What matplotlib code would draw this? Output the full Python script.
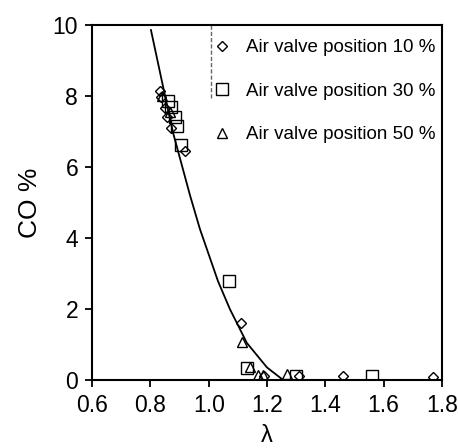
import numpy as np
import matplotlib.pyplot as plt

plt.rcParams['font.family'] = ['Liberation Sans', 'DejaVu Sans']

### Data
# fitted curve (lambda, CO %)
curve_lam = [0.802, 0.840, 0.878, 0.936, 0.970, 1.032, 1.073, 1.131, 1.200, 1.255]
curve_co  = [9.86, 8.40, 6.96, 5.20, 4.25, 2.78, 1.99, 1.04, 0.35, 0.0]

# air valve position 10 %
lam_10 = [0.833, 0.836, 0.850, 0.857, 0.870, 0.920, 1.111, 1.190, 1.310, 1.460, 1.770]
co_10  = [8.15, 7.98, 7.65, 7.42, 7.10, 6.45, 1.60, 0.12, 0.10, 0.12, 0.08]

# air valve position 30 %
lam_30 = [0.862, 0.872, 0.883, 0.890, 0.905, 1.070, 1.132, 1.300, 1.560]
co_30  = [7.85, 7.70, 7.40, 7.15, 6.62, 2.78, 0.33, 0.10, 0.10]

# air valve position 50 %
lam_50 = [0.840, 0.866, 1.114, 1.142, 1.169, 1.186, 1.269]
co_50  = [8.00, 7.55, 1.08, 0.37, 0.14, 0.14, 0.18]

### Plot
fig = plt.figure(figsize=(4.58, 4.48), dpi=100)
ax = fig.add_axes([0.201, 0.152, 0.764, 0.792])

ax.plot(curve_lam, curve_co, 'k-', linewidth=1.3)

mk = dict(linestyle='none', markerfacecolor='none', markeredgecolor='k', markeredgewidth=1.0)
ax.plot(lam_10, co_10, marker='D', markersize=5.5, label='Air valve position 10 %', **mk)
ax.plot(lam_30, co_30, marker='s', markersize=8, label='Air valve position 30 %', **mk)
ax.plot(lam_50, co_50, marker='^', markersize=7.5, label='Air valve position 50 %', **mk)

# legend box edge (only the left side shows in the scan)
ax.axvline(1.008, ymin=0.795, ymax=1.0, color='0.4', linewidth=1.0, linestyle=(0, (3, 1.5)))

leg = ax.legend(loc='upper right', bbox_to_anchor=(1.02, 0.997), frameon=False, fontsize=13.5,
                handlelength=0.6, handletextpad=1.0, labelspacing=1.4, borderaxespad=0.3)

ax.set_xlim(0.6, 1.8)
ax.set_ylim(0, 10)
ax.set_xticks([0.6, 0.8, 1.0, 1.2, 1.4, 1.6, 1.8])
ax.set_yticks([0, 2, 4, 6, 8, 10])
ax.set_xticklabels(['0.6', '0.8', '1.0', '1.2', '1.4', '1.6', '1.8'])

for sp in ax.spines.values():
    sp.set_linewidth(1.5)
ax.tick_params(direction='out', length=5, width=1.3, labelsize=16.5, pad=5)

ax.set_xlabel('λ', fontsize=17, labelpad=6)
ax.set_ylabel('CO %', fontsize=19, labelpad=8)

plt.savefig('out.png', dpi=100)
